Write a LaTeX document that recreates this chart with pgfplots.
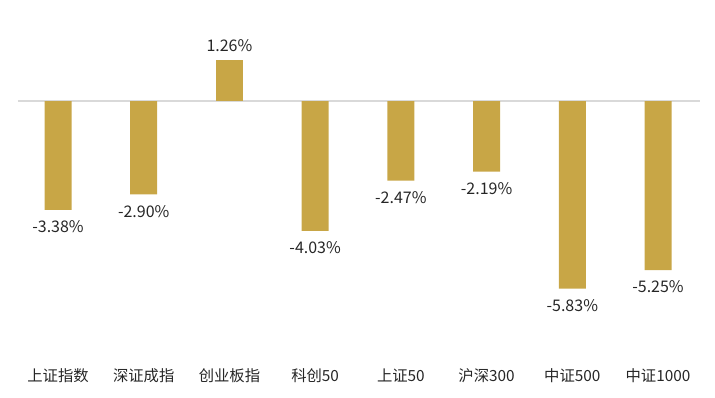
\documentclass[border=0pt]{standalone}
\usepackage{pgfplots}
\pgfplotsset{compat=1.18}
\usepackage{fontspec}
\setmainfont{Noto Sans CJK SC}
\definecolor{bargold}{RGB}{200,166,70}
\definecolor{basegray}{RGB}{217,217,217}
\begin{document}
\begin{tikzpicture}
\path[use as bounding box] (0,0) rectangle (536.25pt,297.75pt);
\begin{axis}[
  at={(13.5pt,26.25pt)}, anchor=south west,
  scale only axis, width=511.5pt, height=256.5pt,
  xmin=-0.467, xmax=7.49, ymin=-8.106, ymax=2.516,
  axis line style={draw=none}, ytick=\empty,
  xtick={0,...,7}, major tick length=0pt,
  xticklabels={上证指数,深证成指,创业板指,科创50,上证50,沪深300,中证500,中证1000},
  xticklabel style={font=\fontsize{11.5pt}{13pt}\selectfont, text=black!85, inner sep=5pt},
  ybar, bar width=20.25pt,
  clip=false,
  point meta=explicit symbolic,
  nodes near coords,
  nodes near coords style={font=\fontsize{12pt}{14pt}\selectfont, text=black!85, inner sep=6pt},
]
\draw[basegray, line width=0.8pt] ({rel axis cs:0,0} |- {axis cs:0,0}) -- ({rel axis cs:1,0} |- {axis cs:0,0});
\addplot[fill=bargold, draw=none, bar shift=0pt,
  every node near coord/.append style={anchor=south, inner sep=6.5pt}] coordinates {
  (2,1.26) [1.26\%]
};
\addplot[fill=bargold, draw=none, bar shift=0pt,
  every node near coord/.append style={anchor=north, inner sep=8pt}] coordinates {
  (0,-3.38) [-3.38\%]
  (1,-2.90) [-2.90\%]
  (3,-4.03) [-4.03\%]
  (4,-2.47) [-2.47\%]
  (5,-2.19) [-2.19\%]
  (6,-5.83) [-5.83\%]
  (7,-5.25) [-5.25\%]
};
\end{axis}
\end{tikzpicture}
\end{document}
